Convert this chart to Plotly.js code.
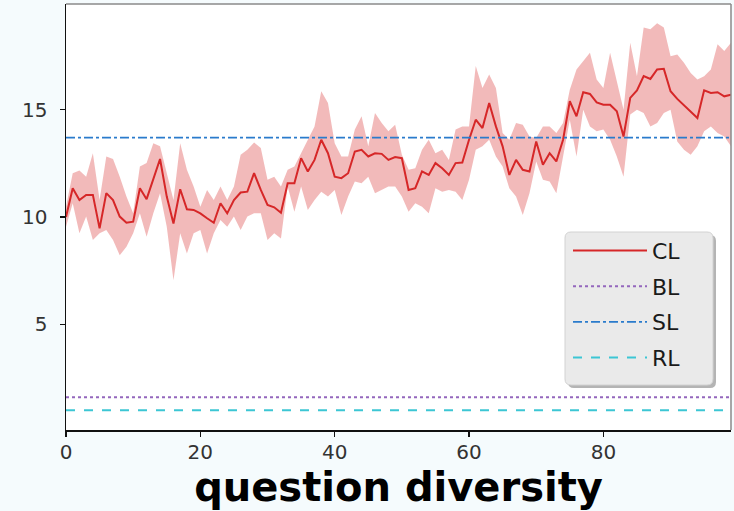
<!DOCTYPE html>
<html>
<head>
<meta charset="utf-8">
<script src="https://cdn.plot.ly/plotly-3.0.1.min.js"></script>
<style>
  html, body { margin: 0; padding: 0; background: #f5fbfd; }
  #chart { width: 734px; height: 511px; }
</style>
</head>
<body>
<div id="chart"></div>
<script>
// ---- data ----
const clMean = [
  10.0, 11.34, 10.79, 11.03, 11.03, 9.47, 11.11, 10.79, 10.02, 9.73,
  9.78, 11.34, 10.83, 11.73, 12.7, 10.95, 9.70, 11.29, 10.36, 10.33,
  10.17, 9.94, 9.73, 10.64, 10.17, 10.79, 11.14, 11.18, 12.04, 11.26,
  10.56, 10.45, 10.2, 11.57, 11.57, 12.74, 12.12, 12.66, 13.6, 12.97,
  11.88, 11.81, 12.04, 13.05, 13.13, 12.82, 12.97, 12.94, 12.66, 12.79,
  12.74, 11.26, 11.34, 12.12, 11.96, 12.51, 12.27, 11.96, 12.51, 12.54,
  13.6, 14.53, 14.14, 15.31, 14.22, 13.29, 11.96, 12.66, 12.2, 12.12,
  13.52, 12.43, 12.97, 12.59, 13.6, 15.39, 14.69, 15.81, 15.73, 15.34,
  15.23, 15.23, 14.92, 13.75, 15.55, 15.9, 16.56, 16.43, 16.87, 16.9,
  15.86, 15.5, 15.19, 14.88, 14.61, 15.9, 15.78, 15.81, 15.62, 15.7
];
const clUpper = [
  10.48, 12.04, 12.16, 11.88, 12.97, 10.79, 12.82, 12.7, 11.88, 10.95,
  10.17, 12.35, 12.51, 13.44, 13.29, 12.04, 10.79, 13.44, 12.2, 11.42,
  10.48, 11.26, 10.79, 11.42, 10.79, 11.42, 12.9, 13.13, 13.47, 13.21,
  11.73, 11.88, 11.42, 12.2, 12.35, 12.97, 13.6, 14.22, 15.86, 15.31,
  13.44, 12.82, 12.82, 14.07, 14.69, 13.29, 14.84, 14.38, 13.99, 14.3,
  12.9, 12.2, 12.27, 13.13, 13.6, 12.97, 13.13, 12.66, 14.07, 14.22,
  14.22, 17.03, 16.01, 16.64, 16.01, 13.91, 13.6, 14.38, 14.3, 13.75,
  13.68, 14.22, 14.22, 13.91, 14.38, 15.93, 16.87, 17.26, 17.65, 16.4,
  16.01, 17.65, 16.25, 15.0, 18.12, 16.56, 18.82, 18.74, 19.02, 18.82,
  17.49, 17.57, 17.18, 16.71, 16.4, 16.56, 16.87, 18.04, 17.73, 18.12
];
const clLower = [
  9.55, 10.64, 9.24, 10.02, 8.93, 9.24, 9.39, 8.93, 8.22, 8.61,
  9.24, 10.17, 9.08, 10.17, 11.11, 9.55, 7.06, 9.24, 8.30, 9.24,
  9.39, 8.30, 9.24, 9.86, 9.55, 10.02, 9.39, 10.02, 10.17, 10.17,
  8.93, 9.24, 9.0, 11.42, 10.25, 11.42, 10.33, 10.79, 11.18, 10.95,
  11.26, 10.09, 10.95, 11.65, 11.57, 11.88, 11.11, 11.26, 11.42, 11.42,
  10.95, 10.25, 10.64, 10.48, 10.17, 11.34, 11.18, 11.26, 11.18, 10.79,
  11.73, 13.13, 13.29, 13.6, 12.82, 12.35, 11.34, 10.95, 10.09, 11.11,
  12.59, 11.73, 11.65, 11.11, 12.82, 14.53, 12.82, 15.0, 14.22, 13.99,
  14.07, 13.6, 12.82, 11.88, 14.77, 15.0, 14.84, 14.22, 14.38, 14.84,
  15.0, 13.52, 13.13, 12.9, 13.29, 13.99, 14.22, 13.91, 13.75, 13.29
];
const blValue = 1.6;
const slValue = 13.7;
const rlValue = 1.0;
const seriesNames = ['CL', 'BL', 'SL', 'RL'];
const xTicks = [0, 20, 40, 60, 80];
const yTicks = [5, 10, 15];
const xTitle = 'question diversity';

// ---- build ----
const xs = clMean.map((_, i) => i);
const xEnds = [xs[0], xs[xs.length - 1]];

const traces = [
  { x: xs, y: clUpper, type: 'scatter', mode: 'lines', line: { width: 0, color: 'rgba(214,39,40,0)' },
    showlegend: false, hoverinfo: 'skip' },
  { x: xs, y: clLower, type: 'scatter', mode: 'lines', line: { width: 0, color: 'rgba(214,39,40,0)' },
    fill: 'tonexty', fillcolor: 'rgba(214,39,40,0.32)', showlegend: false, hoverinfo: 'skip' },
  { x: xs, y: clMean, type: 'scatter', mode: 'lines', name: seriesNames[0], legendgroup: 'a',
    line: { color: '#d62728', width: 2 } },
  { x: xEnds, y: [blValue, blValue], type: 'scatter', mode: 'lines', name: seriesNames[1], legendgroup: 'b',
    line: { color: '#9467bd', width: 2, dash: 'dot' } },
  { x: xEnds, y: [slValue, slValue], type: 'scatter', mode: 'lines', name: seriesNames[2], legendgroup: 'c',
    line: { color: '#2a7bcc', width: 1.8, dash: 'dashdot' } },
  { x: xEnds, y: [rlValue, rlValue], type: 'scatter', mode: 'lines', name: seriesNames[3], legendgroup: 'd',
    line: { color: '#3cc6d4', width: 2, dash: 'dash' } }
];

const tickFont = { family: 'DejaVu Sans', size: 20, color: '#333' };

// legend frame (decoration, in paper coordinates)
function roundRect(x0, x1, y0, y1, rx, ry) {
  return `M${x0 + rx},${y1} L${x1 - rx},${y1} Q${x1},${y1} ${x1},${y1 - ry} ` +
         `L${x1},${y0 + ry} Q${x1},${y0} ${x1 - rx},${y0} L${x0 + rx},${y0} ` +
         `Q${x0},${y0} ${x0},${y0 + ry} L${x0},${y1 - ry} Q${x0},${y1} ${x0 + rx},${y1} Z`;
}
const pw = 665, ph = 426;
const bx0 = (565 - 66) / pw, bx1 = (713 - 66) / pw;
const by1 = (430 - 232) / ph, by0 = (430 - 385) / ph;
const sdx = 3 / pw, sdy = 3 / ph;
const rx = 6 / pw, ry = 6 / ph;

const layout = {
  width: 734, height: 511,
  margin: { l: 66, r: 3, t: 4, b: 81, pad: 0 },
  paper_bgcolor: '#f5fbfd',
  plot_bgcolor: '#ffffff',
  showlegend: true,
  xaxis: {
    range: [0, 99], tickvals: xTicks, ticktext: xTicks.map(String),
    showgrid: false, zeroline: false,
    showline: true, linecolor: '#111', linewidth: 1.5,
    ticks: 'outside', ticklen: 5, tickwidth: 1.5, tickcolor: '#111',
    tickfont: tickFont, ticklabelstandoff: -2,
    title: { text: xTitle, font: { family: 'DejaVu Sans', size: 40, color: '#000', weight: 'bold' }, standoff: 10 },
    automargin: false
  },
  yaxis: {
    range: [0.08, 19.92], tickvals: yTicks, ticktext: yTicks.map(String),
    showgrid: false, zeroline: false,
    showline: true, linecolor: '#111', linewidth: 1.5,
    ticks: 'outside', ticklen: 5, tickwidth: 1.5, tickcolor: '#111',
    tickfont: tickFont, ticklabelstandoff: 8,
    automargin: false
  },
  legend: {
    x: (568 - 66) / pw, y: 0.47, xanchor: 'left', yanchor: 'top',
    bgcolor: 'rgba(0,0,0,0)', borderwidth: 0,
    font: { family: 'DejaVu Sans', size: 22, color: '#1a1a1a' },
    traceorder: 'grouped', tracegroupgap: 4, itemwidth: 74
  },
  shapes: [
    { type: 'line', xref: 'paper', yref: 'paper', x0: 0, x1: 1, y0: 1, y1: 1, line: { color: '#8a8a8a', width: 1.5 } },
    { type: 'line', xref: 'paper', yref: 'paper', x0: 1, x1: 1, y0: 0, y1: 1, line: { color: '#8a8a8a', width: 1.5 } },
    { type: 'path', xref: 'paper', yref: 'paper', layer: 'above',
      path: roundRect(bx0 + sdx, bx1 + sdx, by0 - sdy, by1 - sdy, rx, ry),
      fillcolor: '#b4b4b4', line: { width: 0 } },
    { type: 'path', xref: 'paper', yref: 'paper', layer: 'above',
      path: roundRect(bx0, bx1, by0, by1, rx, ry),
      fillcolor: '#eaeaea', line: { color: '#d2d2d2', width: 1 } }
  ]
};

Plotly.newPlot('chart', traces, layout, { displayModeBar: false, staticPlot: true });
</script>
</body>
</html>
